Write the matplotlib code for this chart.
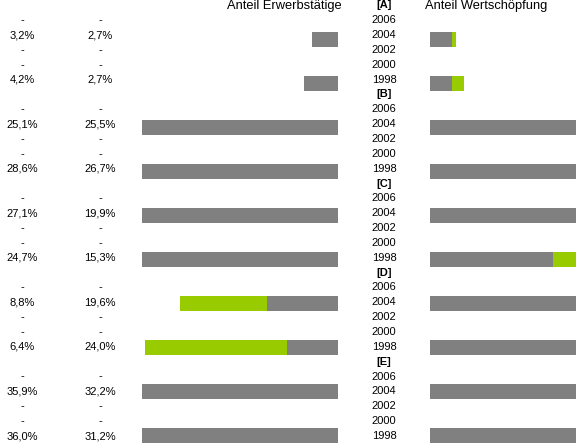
import matplotlib.pyplot as plt

plt.rcParams['font.family'] = ['Liberation Sans', 'DejaVu Sans']

# data
groups = ['[A]', '[B]', '[C]', '[D]', '[E]']
years = ['2006', '2004', '2002', '2000', '1998']
# first value column (Erwerbstaetige) for 2004 and 1998
erw_2004 = [3.2, 25.1, 27.1, 8.8, 35.9]
erw_1998 = [4.2, 28.6, 24.7, 6.4, 36.0]
# second value column (Wertschoepfung) for 2004 and 1998
wert_2004 = [2.7, 25.5, 19.9, 19.6, 32.2]
wert_1998 = [2.7, 26.7, 15.3, 24.0, 31.2]

gray = '#808080'
green = '#99CC00'
W, H = 576, 443

fig = plt.figure(figsize=(W / 100, H / 100), dpi=100)

# text layer in pixel x, row y
tax = fig.add_axes([0, 0, 1, 1])
tax.set_xlim(0, W)
tax.set_ylim(29.47, -0.357)
tax.axis('off')

# bar axes
px_per = 8.04
axl = fig.add_axes([142 / W, 0, 196 / W, 1])
axl.set_xlim(196 / px_per, 0)
axr = fig.add_axes([430 / W, 0, 146 / W, 1])
axr.set_xlim(0, 146 / px_per)
for a in (axl, axr):
    a.set_ylim(29.5, -0.695)
    a.axis('off')


def fmt(v):
    return f"{v:.1f}%".replace('.', ',')


fs = 8
for g, name in enumerate(groups):
    r0 = g * 6
    tax.text(384, r0, name, ha='center', va='center', fontsize=fs,
             fontweight='bold')
    vals = {'2004': (erw_2004[g], wert_2004[g]), '1998': (erw_1998[g], wert_1998[g])}
    for i, y in enumerate(years):
        r = r0 + 1 + i
        tax.text(384, r, y, ha='center', va='center', fontsize=fs)
        if y in vals:
            e, w = vals[y]
            tax.text(22, r, fmt(e), ha='center', va='center', fontsize=fs)
            tax.text(100, r, fmt(w), ha='center', va='center', fontsize=fs)
            # left chart: gray = Erwerbstaetige, green = extra up to Wertschoepfung
            axl.barh(r, e, height=1.02, color=gray, lw=0)
            axl.barh(r, max(w - e, 0), left=e, height=1.02, color=green, lw=0)
            # right chart: gray = Wertschoepfung, green = extra up to Erwerbstaetige
            axr.barh(r, w, height=1.02, color=gray, lw=0)
            axr.barh(r, max(e - w, 0), left=w, height=1.02, color=green, lw=0)
        else:
            tax.text(22, r, '-', ha='center', va='center', fontsize=fs)
            tax.text(100, r, '-', ha='center', va='center', fontsize=fs)

# column titles, kept just inside the top edge
fig.text(342 / W, 1.0, 'Anteil Erwerbstätige', ha='right', va='top', fontsize=9.3)
fig.text(425 / W, 1.0, 'Anteil Wertschöpfung', ha='left', va='top', fontsize=9.3)

fig.savefig('out.png', dpi=100)
